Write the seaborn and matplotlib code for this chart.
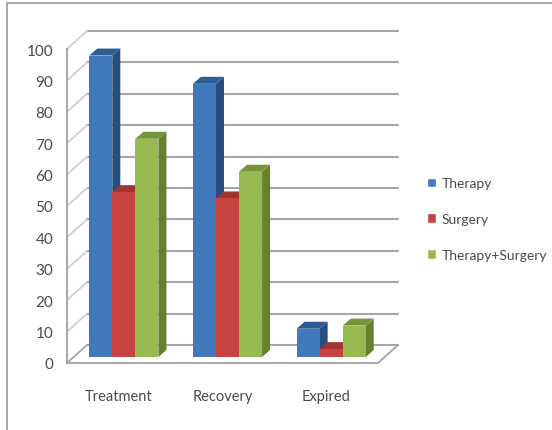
import matplotlib
matplotlib.use("Agg")
import matplotlib.pyplot as plt
from matplotlib.patches import Polygon, Rectangle
import pandas as pd
import seaborn as sns

categories = ["Treatment", "Recovery", "Expired"]
therapy = [96, 87, 9]
surgery = [52.5, 50.5, 2.5]
combined = [69.5, 59, 10]
series_names = ["Therapy", "Surgery", "Therapy+Surgery"]
front_colors = ["#4279BD", "#C6433F", "#97BB52"]
side_colors = ["#264F80", "#8A2B28", "#66802F"]
top_colors = ["#2E5D96", "#A33330", "#76953A"]
y_ticks = list(range(0, 101, 10))

W, H = 552, 431
GRID = "#a6a6a6"
WALL = "#cfcfcf"
TEXT = "#4a4a4a"

sns.set_style("white")
plt.rcParams["font.family"] = ["Lato", "DejaVu Sans"]

frame = pd.DataFrame({
    "category": categories * 3,
    "value": therapy + surgery + combined,
    "series": [n for n in series_names for _ in categories],
})

fig = plt.figure(figsize=(W / 100, H / 100), dpi=100, facecolor="white")


def rect(left, right, bottom, top):
    """Axes rectangle from pixel edges measured from the top-left corner."""
    return [left / W, 1 - bottom / H, (right - left) / W, (bottom - top) / H]


# Outer chart border
fig.add_artist(Rectangle((7 / W, -0.02), 1.1, 1 - 4 / H + 0.02,
                         transform=fig.transFigure, fill=False,
                         edgecolor="#a9a9a9", linewidth=1.4))

# Front plane of the box: carries the axis, tick labels and the walls
box = fig.add_axes(rect(67, 378, 364, 50), zorder=1)
box.patch.set_alpha(0)
box.set_xlim(-0.5, 2.5)
box.set_ylim(0, 100)
box.set_yticks(y_ticks)
box.set_xticks(range(len(categories)))
box.set_xticklabels(categories)
box.tick_params(axis="y", length=0, pad=10, labelsize=11, labelcolor=TEXT)
box.tick_params(axis="x", length=0, pad=19, labelsize=10.5, labelcolor=TEXT)
for name, spine in box.spines.items():
    spine.set_visible(name in ("left", "bottom"))
    spine.set_color(GRID)
    spine.set_linewidth(1.4)

units_x = 3 / 311
units_y = 100 / 314
back_x = 20 * units_x
back_y = 18 * units_y
for v in y_ticks:
    box.plot([-0.5 + back_x, 2.5 + back_x], [v + back_y, v + back_y],
             color=GRID, lw=1.5, clip_on=False, zorder=1)
    box.plot([-0.5, -0.5 + back_x], [v, v + back_y],
             color=WALL if v else GRID, lw=1.3, clip_on=False, zorder=1)
box.plot([2.5, 2.5 + back_x], [0, back_y], color=GRID, lw=1.4, clip_on=False, zorder=1)

# Bars sit between the front and back planes of the box
ax = fig.add_axes(rect(72, 383, 358, 44), zorder=2)
ax.patch.set_alpha(0)
sns.barplot(data=frame, x="category", y="value", hue="series", hue_order=series_names,
            palette=front_colors, saturation=1, width=0.667, gap=0, dodge=True,
            ax=ax, legend=True)
ax.set_xlim(-0.5, 2.5)
ax.set_ylim(0, 100)
ax.set_axis_off()

depth_x = 8 * units_x
depth_y = 7 * units_y
for i, container in enumerate(ax.containers):
    for bar in container:
        x0, x1 = bar.get_x(), bar.get_x() + bar.get_width()
        h = bar.get_height()
        bar.set_zorder(3.5 + i)
        bar.set_linewidth(0)
        ax.add_patch(Polygon([(x1, 0), (x1 + depth_x, depth_y), (x1 + depth_x, h + depth_y), (x1, h)],
                             facecolor=side_colors[i], edgecolor="none", zorder=3 + i, clip_on=False))
        ax.add_patch(Polygon([(x0, h), (x0 + depth_x, h + depth_y), (x1 + depth_x, h + depth_y), (x1, h)],
                             facecolor=top_colors[i], edgecolor="none", zorder=3 + i, clip_on=False))

handles, labels = ax.get_legend_handles_labels()
ax.get_legend().remove()
fig.legend(handles, labels, loc="center left", bbox_to_anchor=(420 / W, 1 - 220 / H),
           frameon=False, fontsize=10, labelcolor=TEXT, handlelength=0.68,
           handleheight=0.68, handletextpad=0.35, labelspacing=1.7, borderpad=0,
           borderaxespad=0.5)

fig.savefig("out.png", dpi=100)
